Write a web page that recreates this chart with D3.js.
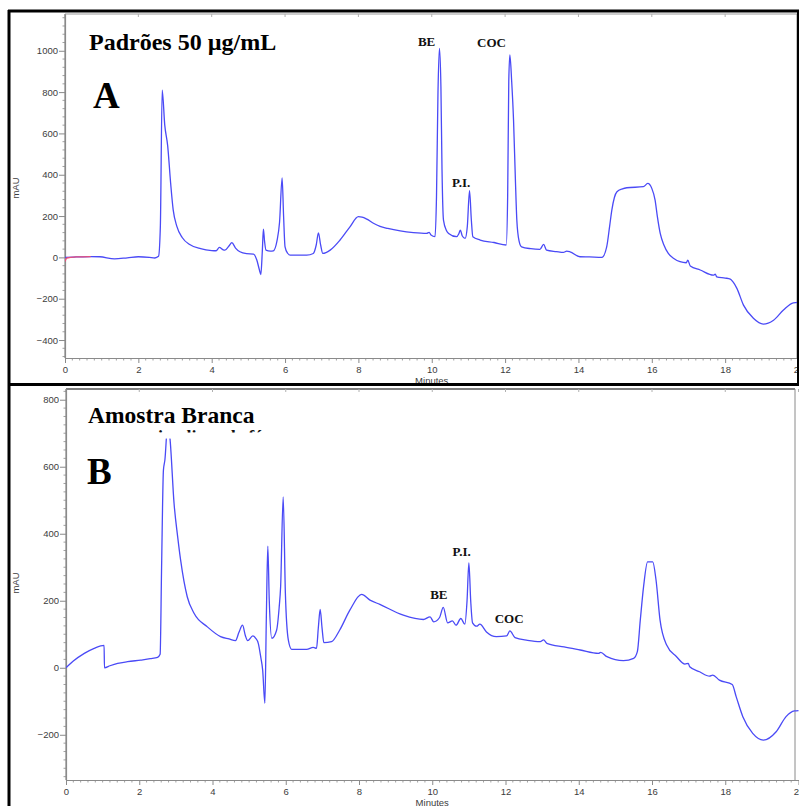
<!DOCTYPE html>
<html>
<head>
<meta charset="utf-8">
<script src="https://cdn.jsdelivr.net/npm/d3@7"></script>
<style>
  html, body { margin: 0; padding: 0; background: #fff; }
  svg { display: block; }
</style>
</head>
<body>
<svg id="chart" width="799" height="806"></svg>
<script>
// ---------- DATA ----------
const xTicks = [0, 2, 4, 6, 8, 10, 12, 14, 16, 18, 20];
const yTicksA = [-400, -200, 0, 200, 400, 600, 800, 1000];
const yTicksB = [-200, 0, 200, 400, 600, 800];

// Panel A: Padrões 50 µg/mL  (time in minutes, absorbance in mAU)
const timeA = [0,0.3,0.7,0.95,1.35,1.7,2.0,2.3,2.45,2.55,2.6,2.65,2.72,2.8,2.88,2.95,3.05,3.2,3.4,3.7,4.0,4.12,4.21,4.3,4.36,4.47,4.55,4.65,4.77,4.95,5.14,5.23,5.3,5.34,5.38,5.41,5.44,5.48,5.6,5.68,5.78,5.85,5.92,5.96,6.0,6.07,6.14,6.59,6.77,6.85,6.91,6.97,7.03,7.23,7.5,7.77,8.0,8.1,8.23,8.41,8.59,8.8,9.14,9.5,9.86,9.93,9.98,10.09,10.13,10.17,10.21,10.25,10.28,10.32,10.4,10.46,10.68,10.74,10.78,10.83,10.91,10.97,11.03,11.08,11.12,11.32,11.7,12.03,12.07,12.1,12.13,12.18,12.23,12.28,12.32,12.38,12.45,12.7,12.95,13.05,13.13,13.4,13.59,13.68,13.77,14.04,14.3,14.64,14.77,14.85,14.91,14.98,15.05,15.2,15.32,15.77,15.89,16.0,16.09,16.15,16.23,16.33,16.45,16.6,16.77,16.94,16.98,17.05,17.32,17.68,17.73,17.77,18.0,18.14,18.22,18.32,18.5,18.77,19.04,19.32,19.59,19.86,20];
const valueA = [0,2,4,3,-7,-2,3,0,-3,5,150,810,640,540,360,230,150,95,62,42,33,32,48,38,35,55,71,45,27,18,16,-13,-60,-83,30,137,80,35,30,32,80,170,385,200,51,20,11,11,19,60,119,60,19,35,84,148,197,195,185,165,150,140,128,120,116,121,108,100,300,800,1012,826,423,180,130,116,100,115,132,105,92,150,323,180,100,84,72,60,300,850,980,850,665,380,180,80,51,42,39,63,35,28,24,30,27,3,2,0,51,150,229,290,318,332,337,342,358,334,277,200,116,60,19,-5,-21,-26,-13,-42,-61,-86,-81,-94,-100,-105,-120,-150,-231,-295,-323,-304,-255,-220,-218];

// Panel A: short red reference trace at the start
const timeRed = [0, 0.05, 0.3, 0.7];
const valueRed = [-20, -3, 2, 4];

// Panel B: Amostra Branca
const timeB = [0,0.2,0.5,0.77,1.04,1.05,1.2,1.41,1.68,2.04,2.3,2.5,2.57,2.61,2.66,2.7,2.78,2.84,2.95,3.05,3.13,3.31,3.5,3.86,4.22,4.45,4.63,4.72,4.82,4.9,4.96,5.1,5.18,5.25,5.32,5.37,5.43,5.47,5.51,5.55,5.62,5.75,5.82,5.86,5.93,5.99,6.07,6.16,6.57,6.75,6.84,6.89,6.94,6.99,7.04,7.25,7.47,7.75,8.07,8.3,8.57,9.21,9.76,9.94,10.04,10.2,10.3,10.42,10.55,10.65,10.78,10.89,10.95,11.0,11.05,11.1,11.21,11.3,11.48,11.75,12.03,12.12,12.26,12.6,12.95,13.04,13.13,13.6,14.04,14.54,14.6,14.77,15.22,15.5,15.6,15.68,15.77,15.88,16.02,16.11,16.22,16.4,16.67,16.9,16.99,17.03,17.3,17.57,17.66,17.84,18.19,18.3,18.48,18.75,19.04,19.39,19.66,19.89,20];
const valueB = [0,20,43,58,67,0,6,13,18,23,27,31,40,300,590,620,730,683,491,390,321,212,162,122,93,86,81,105,127,95,81,95,88,73,30,-7,-106,150,363,200,88,112,180,242,510,222,83,55,55,61,58,120,174,120,75,78,112,172,219,202,189,157,144,152,137,150,180,134,140,127,147,130,200,313,200,134,124,130,107,93,95,110,90,82,78,83,73,62,53,43,46,33,21,28,48,142,242,316,316,262,142,68,33,11,13,3,-12,-25,-22,-37,-50,-87,-146,-196,-216,-191,-146,-129,-128];

const peakLabelsA = ["BE", "P.I.", "COC"];
const peakLabelsB = ["BE", "P.I.", "COC"];

// ---------- DRAW ----------
const svg = d3.select("#chart");
const lineColor = "#4a4af6";
const axisColor = "#8a8a8a";
const tickText = "#3c3c3c";
const sans = "'Liberation Sans', Arial, sans-serif";
const serif = "'Liberation Serif', 'Times New Roman', serif";

function zip(t, v) { return t.map((d, i) => ({ t: d, v: v[i] })); }

function drawPanel(cfg) {
  const x = d3.scaleLinear().domain([0, 20]).range([cfg.left, cfg.xEnd]);
  const y = d3.scaleLinear().domain(cfg.yDomain).range([cfg.bottom, cfg.top]);
  const g = svg.append("g");

  // frame (top + right)
  g.append("line").attr("x1", cfg.left).attr("x2", cfg.frameRight)
    .attr("y1", cfg.top).attr("y2", cfg.top).attr("stroke", cfg.topColor).attr("stroke-width", cfg.topWidth);
  g.append("line").attr("x1", cfg.frameRight).attr("x2", cfg.frameRight)
    .attr("y1", cfg.top).attr("y2", cfg.bottom).attr("stroke", axisColor).attr("stroke-width", 1);
  // top major ticks
  g.selectAll(".tt").data(xTicks).enter().append("line")
    .attr("x1", d => x(d)).attr("x2", d => x(d))
    .attr("y1", cfg.top).attr("y2", cfg.top + 3)
    .attr("stroke", "#b0b0b0");

  // minor ticks x
  const minorX = d3.range(0, 20.001, 0.2).filter(d => Math.abs(d / 2 - Math.round(d / 2)) > 1e-6);
  g.selectAll(".mx").data(minorX).enter().append("line")
    .attr("x1", d => x(d)).attr("x2", d => x(d))
    .attr("y1", cfg.bottom).attr("y2", cfg.bottom + 2.5)
    .attr("stroke", axisColor).attr("stroke-width", 0.8);
  // minor ticks y
  const minorY = d3.range(Math.ceil(cfg.yDomain[0] / cfg.minorStep) * cfg.minorStep, cfg.yDomain[1], cfg.minorStep)
    .filter(d => d % 200 !== 0);
  g.selectAll(".my").data(minorY).enter().append("line")
    .attr("x1", cfg.left - 2.5).attr("x2", cfg.left)
    .attr("y1", d => y(d)).attr("y2", d => y(d))
    .attr("stroke", axisColor).attr("stroke-width", 0.8);

  // axes
  const xAxis = g.append("g").attr("transform", `translate(0,${cfg.bottom})`)
    .call(d3.axisBottom(x).tickValues(xTicks).tickFormat(d3.format("d")).tickSize(5).tickPadding(3).tickSizeOuter(0));
  const yAxis = g.append("g").attr("transform", `translate(${cfg.left},0)`)
    .call(d3.axisLeft(y).tickValues(cfg.yTicks).tickFormat(d3.format("d")).tickSize(6).tickPadding(1).tickSizeOuter(0));
  [xAxis, yAxis].forEach(a => {
    a.select(".domain").attr("stroke", axisColor).attr("stroke-width", 1.2);
    a.selectAll(".tick line").attr("stroke", axisColor);
    a.selectAll(".tick text").attr("fill", tickText).style("font-family", sans).style("font-size", "9.5px");
  });
  // y-axis domain extend to top
  g.append("line").attr("x1", cfg.left).attr("x2", cfg.left).attr("y1", cfg.top).attr("y2", cfg.bottom)
    .attr("stroke", axisColor).attr("stroke-width", 1.2);

  g.append("text").attr("x", x(10)).attr("y", cfg.bottom + 26).attr("text-anchor", "middle")
    .attr("fill", tickText).style("font-family", sans).style("font-size", "9.5px").text("Minutes");
  g.append("text").attr("transform", `translate(19,${cfg.labelY}) rotate(-90)`).attr("text-anchor", "middle")
    .attr("fill", tickText).style("font-family", sans).style("font-size", "9.5px").text("mAU");

  const line = d3.line().x(d => x(d.t)).y(d => y(d.v)).curve(d3.curveMonotoneX);
  const clipId = "clip" + cfg.id;
  svg.append("clipPath").attr("id", clipId).append("rect")
    .attr("x", cfg.left).attr("y", cfg.top).attr("width", 799 - cfg.left).attr("height", cfg.bottom - cfg.top);
  const plot = g.append("g").attr("clip-path", `url(#${clipId})`);
  cfg.series.forEach(s => {
    plot.append("path").datum(zip(s.t, s.v)).attr("d", line)
      .attr("fill", "none").attr("stroke", s.color).attr("stroke-width", 1.3).attr("stroke-linejoin", "round");
  });
  return { x, y, g };
}

// Panel A
const pA = drawPanel({
  id: "A", left: 65, xEnd: 798.5, frameRight: 797, top: 14, bottom: 358,
  yDomain: [-487, 1178], yTicks: yTicksA, minorStep: 40, labelY: 188,
  topColor: "#9a9a9a", topWidth: 1,
  series: [{ t: timeA, v: valueA, color: lineColor }, { t: timeRed, v: valueRed, color: "#e8507a" }]
});
// Panel B
const pB = drawPanel({
  id: "B", left: 66, xEnd: 798.5, frameRight: 795, top: 389, bottom: 780,
  yDomain: [-335, 832], yTicks: yTicksB, minorStep: 25, labelY: 583,
  topColor: "#555", topWidth: 1.5,
  series: [{ t: timeB, v: valueB, color: lineColor }]
});

// white text box in panel B (hides the top of the first peak)
svg.append("rect").attr("x", 82).attr("y", 402).attr("width", 220).attr("height", pB.y(684) - 402).attr("fill", "#fff");
svg.append("clipPath").attr("id", "txtclip").append("rect").attr("x", 80).attr("y", 400).attr("width", 240).attr("height", 32.5);
svg.append("text").attr("x", 140).attr("y", 443).attr("clip-path", "url(#txtclip)")
  .style("font-family", serif).style("font-weight", "bold").style("font-size", "18px").attr("fill", "#111")
  .text("urina livre de fármacos");

// titles
svg.append("text").attr("x", 89).attr("y", 50).style("font-family", serif).style("font-weight", "bold")
  .style("font-size", "24px").attr("fill", "#000").text("Padrões 50 µg/mL");
svg.append("text").attr("x", 93).attr("y", 108).style("font-family", serif).style("font-weight", "bold")
  .style("font-size", "37px").attr("fill", "#000").text("A");
svg.append("text").attr("x", 88).attr("y", 423).style("font-family", serif).style("font-weight", "bold")
  .style("font-size", "23.5px").attr("fill", "#000").text("Amostra Branca");
svg.append("text").attr("x", 87).attr("y", 484).style("font-family", serif).style("font-weight", "bold")
  .style("font-size", "37px").attr("fill", "#000").text("B");

// peak labels [time, mAU] of the text anchor
const posA = [[9.86, 1025], [10.8, 342], [11.63, 1018]];
const posB = [[10.18, 205], [10.8, 333], [12.1, 134]];
function peakText(p, labels, pos) {
  labels.forEach((lab, i) => {
    p.g.append("text").attr("x", p.x(pos[i][0])).attr("y", p.y(pos[i][1])).attr("text-anchor", "middle")
      .style("font-family", serif).style("font-weight", "bold").style("font-size", "13px").attr("fill", "#111")
      .text(lab);
  });
}
peakText(pA, peakLabelsA, posA);
peakText(pB, peakLabelsB, posB);

// outer black frame
const frame = svg.append("g").attr("stroke", "#000").attr("fill", "none");
frame.append("line").attr("x1", 8).attr("x2", 799).attr("y1", 11).attr("y2", 11).attr("stroke-width", 3);
frame.append("line").attr("x1", 9).attr("x2", 9).attr("y1", 10).attr("y2", 806).attr("stroke-width", 3);
frame.append("line").attr("x1", 8).attr("x2", 799).attr("y1", 384.5).attr("y2", 384.5).attr("stroke-width", 3);
frame.append("line").attr("x1", 798).attr("x2", 798).attr("y1", 10).attr("y2", 384).attr("stroke-width", 2);
</script>
</body>
</html>
